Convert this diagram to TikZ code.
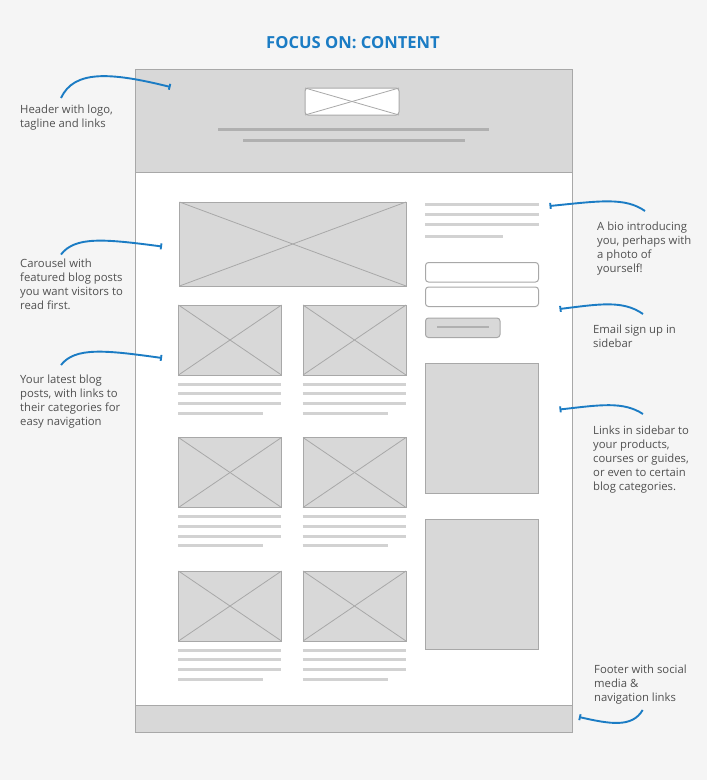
\documentclass[tikz,border=0pt]{standalone}
\usepackage{fontspec}
\setmainfont{Open Sans}
\usetikzlibrary{arrows.meta}

\definecolor{pagebg}{HTML}{F5F5F5}
\definecolor{boxfill}{HTML}{D8D8D8}
\definecolor{boxline}{HTML}{A8A8A8}
\definecolor{barline}{HTML}{B0B0B0}
\definecolor{copyline}{HTML}{D2D2D2}
\definecolor{noteblue}{HTML}{1B7CC4}
\definecolor{notetext}{HTML}{505050}

\tikzset{
  wirebox/.style={draw=boxline,fill=boxfill,line width=1pt},
  wirefield/.style={draw=boxline,fill=white,line width=1pt,rounded corners=3pt},
  wirecross/.style={draw=boxline,line width=0.8pt},
  copybar/.style={draw=copyline,line width=3pt},
  headbar/.style={draw=barline,line width=3pt},
  note/.style={anchor=north west,inner sep=0pt,align=left,text=notetext,
    font=\fontsize{11.3}{14}\selectfont},
  notecurve/.style={draw=noteblue,line width=1.9pt,{Bar[width=6pt,length=1.2pt]}-},
}

\begin{document}
\begin{tikzpicture}[x=1pt,y=-1pt]

\useasboundingbox[fill=pagebg] (0,0) rectangle (707,780);

\node[text=noteblue,font=\fontsize{16.6}{20}\selectfont\bfseries] (title) at (353,42.8) {FOCUS ON: CONTENT};

% page
\draw[draw=boxline,fill=white,line width=1pt] (135.5,69) rectangle (572.5,732);
\draw[wirebox] (135.5,69) rectangle (572.5,172);
\draw[wirebox] (135.5,705) rectangle (572.5,732);

% logo
\draw[wirefield] (305,88) rectangle (399,115);
\draw[wirecross] (305,88) -- (399,115);
\draw[wirecross] (305,115) -- (399,88);
\draw[headbar] (218,129.5) -- (489,129.5);
\draw[headbar] (243,140) -- (465,140);

% carousel
\draw[wirebox] (179.5,202) rectangle (406,286);
\draw[wirecross] (179.5,202) -- (406,286);
\draw[wirecross] (179.5,286) -- (406,202);

% blog posts
\foreach \x in {178.5,303}
  \foreach \y in {305,437.5,571} {
    \draw[wirebox] (\x,\y) rectangle (\x+103,\y+70);
    \draw[wirecross] (\x,\y) -- (\x+103,\y+70);
    \draw[wirecross] (\x,\y+70) -- (\x+103,\y);
    \draw[copybar] (\x-0.5,\y+79) -- (\x+102.5,\y+79);
    \draw[copybar] (\x-0.5,\y+88.5) -- (\x+102.5,\y+88.5);
    \draw[copybar] (\x-0.5,\y+98.5) -- (\x+102.5,\y+98.5);
    \draw[copybar] (\x-0.5,\y+108) -- (\x+84.5,\y+108);
  }

% sidebar
\draw[copybar] (425,204.5) -- (538.5,204.5);
\draw[copybar] (425,214) -- (538.5,214);
\draw[copybar] (425,224.5) -- (538.5,224.5);
\draw[copybar] (425,236) -- (502.5,236);
\draw[wirefield] (425.5,262.5) rectangle (538.5,282);
\draw[wirefield] (425.5,287) rectangle (538.5,306.5);
\draw[wirebox,rounded corners=3pt] (425.5,318) rectangle (500,337.5);
\draw[headbar,line width=2.5pt] (437,327) -- (489,327);
\draw[wirebox] (425.5,363) rectangle (538.5,493);
\draw[wirebox] (425.5,519) rectangle (538.5,649.5);

% notes
\node[note] (noteHeader) at (20,105) {Header with logo,\\tagline and links};
\node[note] (noteCarousel) at (20,258.5) {Carousel with\\featured blog posts\\you want visitors to\\read first.};
\node[note] (noteLatest) at (20,375) {Your latest blog\\posts, with links to\\their categories for\\easy navigation};
\node[note] (noteBio) at (597,221.5) {A bio introducing\\you, perhaps with\\a photo of\\yourself!};
\node[note] (noteEmail) at (593,324.5) {Email sign up in\\sidebar};
\node[note] (noteLinks) at (593,425.5) {Links in sidebar to\\your products,\\courses or guides,\\or even to certain\\blog categories.};
\node[note] (noteFooter) at (594,664.5) {Footer with social\\media \&\\navigation links};

\coordinate (tipHeader) at (170.5,87);
\coordinate (tipCarousel) at (162,246.5);
\coordinate (tipLatest) at (162,358);
\coordinate (tipBio) at (549.5,206);
\coordinate (tipEmail) at (559.5,309);
\coordinate (tipLinks) at (559.5,409.5);
\coordinate (tipFooter) at (579,717);

\draw[notecurve] (tipHeader) .. controls (110,72) and (74,70) .. ([shift={(41,-7)}]noteHeader.north west);
\draw[notecurve] (tipCarousel) .. controls (105,239) and (75,236) .. ([shift={(41,-4)}]noteCarousel.north west);
\draw[notecurve] (tipLatest) .. controls (105,350) and (75,347) .. ([shift={(41,-10)}]noteLatest.north west);
\draw[notecurve] (tipBio) .. controls (600,201) and (625,197) .. ([shift={(48,-10.5)}]noteBio.north west);
\draw[notecurve] (tipEmail) .. controls (600,304) and (623,300) .. ([shift={(50,-10.5)}]noteEmail.north west);
\draw[notecurve] (tipLinks) .. controls (600,405) and (623,401) .. ([shift={(50,-11.5)}]noteLinks.north west);
\draw[notecurve] (tipFooter) .. controls (610,724) and (632,728) .. ([shift={(48.7,45.5)}]noteFooter.north west);

\end{tikzpicture}
\end{document}
